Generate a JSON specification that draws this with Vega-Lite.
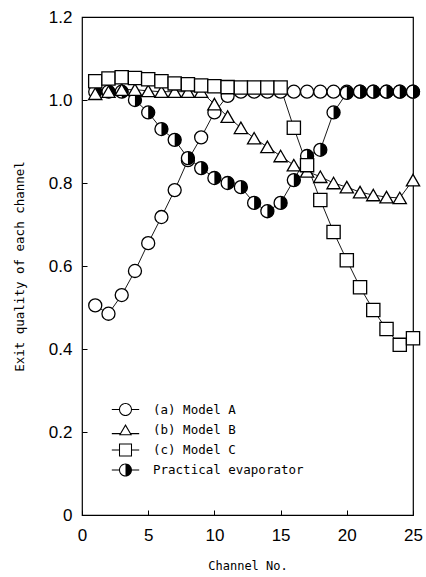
{
  "$schema": "https://vega.github.io/schema/vega-lite/v6.json",
  "width": 331,
  "height": 498,
  "autosize": {"type": "none"},
  "padding": {"left": 82, "top": 17, "right": 13, "bottom": 62},
  "background": "white",
  "config": {
    "view": {"stroke": "black", "strokeWidth": 1.2},
    "axis": {
      "grid": false,
      "domain": false,
      "ticks": true,
      "tickColor": "black",
      "tickSize": -5,
      "tickWidth": 1,
      "labelColor": "black",
      "labelFont": "Liberation Sans",
      "labelFontSize": 17,
      "titleColor": "black",
      "titleFont": "DejaVu Sans Mono",
      "titleFontWeight": "normal"
    }
  },
  "data": {
    "values": [
      {"c": 1, "s": "(a) Model A", "q": 0.505},
      {"c": 2, "s": "(a) Model A", "q": 0.485},
      {"c": 3, "s": "(a) Model A", "q": 0.53},
      {"c": 4, "s": "(a) Model A", "q": 0.588},
      {"c": 5, "s": "(a) Model A", "q": 0.655},
      {"c": 6, "s": "(a) Model A", "q": 0.718},
      {"c": 7, "s": "(a) Model A", "q": 0.783},
      {"c": 8, "s": "(a) Model A", "q": 0.855},
      {"c": 9, "s": "(a) Model A", "q": 0.91},
      {"c": 10, "s": "(a) Model A", "q": 0.97},
      {"c": 11, "s": "(a) Model A", "q": 1.01},
      {"c": 12, "s": "(a) Model A", "q": 1.02},
      {"c": 13, "s": "(a) Model A", "q": 1.02},
      {"c": 14, "s": "(a) Model A", "q": 1.02},
      {"c": 15, "s": "(a) Model A", "q": 1.02},
      {"c": 16, "s": "(a) Model A", "q": 1.02},
      {"c": 17, "s": "(a) Model A", "q": 1.02},
      {"c": 18, "s": "(a) Model A", "q": 1.02},
      {"c": 19, "s": "(a) Model A", "q": 1.02},
      {"c": 20, "s": "(a) Model A", "q": 1.02},
      {"c": 21, "s": "(a) Model A", "q": 1.02},
      {"c": 22, "s": "(a) Model A", "q": 1.02},
      {"c": 23, "s": "(a) Model A", "q": 1.02},
      {"c": 24, "s": "(a) Model A", "q": 1.02},
      {"c": 25, "s": "(a) Model A", "q": 1.02},
      {"c": 1, "s": "Practical evaporator", "q": 1.02},
      {"c": 2, "s": "Practical evaporator", "q": 1.02},
      {"c": 3, "s": "Practical evaporator", "q": 1.02},
      {"c": 4, "s": "Practical evaporator", "q": 1.0},
      {"c": 5, "s": "Practical evaporator", "q": 0.97},
      {"c": 6, "s": "Practical evaporator", "q": 0.93},
      {"c": 7, "s": "Practical evaporator", "q": 0.904},
      {"c": 8, "s": "Practical evaporator", "q": 0.86},
      {"c": 9, "s": "Practical evaporator", "q": 0.836},
      {"c": 10, "s": "Practical evaporator", "q": 0.812},
      {"c": 11, "s": "Practical evaporator", "q": 0.8},
      {"c": 12, "s": "Practical evaporator", "q": 0.79},
      {"c": 13, "s": "Practical evaporator", "q": 0.752},
      {"c": 14, "s": "Practical evaporator", "q": 0.732},
      {"c": 15, "s": "Practical evaporator", "q": 0.752},
      {"c": 16, "s": "Practical evaporator", "q": 0.807},
      {"c": 17, "s": "Practical evaporator", "q": 0.865},
      {"c": 18, "s": "Practical evaporator", "q": 0.88},
      {"c": 19, "s": "Practical evaporator", "q": 0.97},
      {"c": 20, "s": "Practical evaporator", "q": 1.017},
      {"c": 21, "s": "Practical evaporator", "q": 1.02},
      {"c": 22, "s": "Practical evaporator", "q": 1.02},
      {"c": 23, "s": "Practical evaporator", "q": 1.02},
      {"c": 24, "s": "Practical evaporator", "q": 1.02},
      {"c": 25, "s": "Practical evaporator", "q": 1.02},
      {"c": 1, "s": "(b) Model B", "q": 1.015},
      {"c": 2, "s": "(b) Model B", "q": 1.02},
      {"c": 3, "s": "(b) Model B", "q": 1.025},
      {"c": 4, "s": "(b) Model B", "q": 1.025},
      {"c": 5, "s": "(b) Model B", "q": 1.022},
      {"c": 6, "s": "(b) Model B", "q": 1.02},
      {"c": 7, "s": "(b) Model B", "q": 1.02},
      {"c": 8, "s": "(b) Model B", "q": 1.02},
      {"c": 9, "s": "(b) Model B", "q": 1.02},
      {"c": 10, "s": "(b) Model B", "q": 0.99},
      {"c": 11, "s": "(b) Model B", "q": 0.96},
      {"c": 12, "s": "(b) Model B", "q": 0.933},
      {"c": 13, "s": "(b) Model B", "q": 0.908},
      {"c": 14, "s": "(b) Model B", "q": 0.887},
      {"c": 15, "s": "(b) Model B", "q": 0.865},
      {"c": 16, "s": "(b) Model B", "q": 0.843},
      {"c": 17, "s": "(b) Model B", "q": 0.828},
      {"c": 18, "s": "(b) Model B", "q": 0.815},
      {"c": 19, "s": "(b) Model B", "q": 0.8},
      {"c": 20, "s": "(b) Model B", "q": 0.79},
      {"c": 21, "s": "(b) Model B", "q": 0.778},
      {"c": 22, "s": "(b) Model B", "q": 0.771},
      {"c": 23, "s": "(b) Model B", "q": 0.766},
      {"c": 24, "s": "(b) Model B", "q": 0.764},
      {"c": 25, "s": "(b) Model B", "q": 0.807},
      {"c": 1, "s": "(c) Model C", "q": 1.045},
      {"c": 2, "s": "(c) Model C", "q": 1.052},
      {"c": 3, "s": "(c) Model C", "q": 1.055},
      {"c": 4, "s": "(c) Model C", "q": 1.053},
      {"c": 5, "s": "(c) Model C", "q": 1.05},
      {"c": 6, "s": "(c) Model C", "q": 1.045},
      {"c": 7, "s": "(c) Model C", "q": 1.04},
      {"c": 8, "s": "(c) Model C", "q": 1.038},
      {"c": 9, "s": "(c) Model C", "q": 1.035},
      {"c": 10, "s": "(c) Model C", "q": 1.033},
      {"c": 11, "s": "(c) Model C", "q": 1.031},
      {"c": 12, "s": "(c) Model C", "q": 1.03},
      {"c": 13, "s": "(c) Model C", "q": 1.03},
      {"c": 14, "s": "(c) Model C", "q": 1.03},
      {"c": 15, "s": "(c) Model C", "q": 1.03},
      {"c": 16, "s": "(c) Model C", "q": 0.933},
      {"c": 17, "s": "(c) Model C", "q": 0.843},
      {"c": 18, "s": "(c) Model C", "q": 0.759},
      {"c": 19, "s": "(c) Model C", "q": 0.682},
      {"c": 20, "s": "(c) Model C", "q": 0.614},
      {"c": 21, "s": "(c) Model C", "q": 0.549},
      {"c": 22, "s": "(c) Model C", "q": 0.494},
      {"c": 23, "s": "(c) Model C", "q": 0.448},
      {"c": 24, "s": "(c) Model C", "q": 0.41},
      {"c": 25, "s": "(c) Model C", "q": 0.426}
    ]
  },
  "encoding": {
    "x": {
      "field": "c",
      "type": "quantitative",
      "scale": {"domain": [0, 25], "nice": false, "zero": false},
      "axis": {
        "values": [0, 5, 10, 15, 20, 25],
        "title": "Channel No.",
        "titleFontSize": 12,
        "titlePadding": 17,
        "labelPadding": 17,
        "labelFlush": false
      }
    },
    "y": {
      "field": "q",
      "type": "quantitative",
      "scale": {"domain": [0, 1.2], "nice": false},
      "axis": {
        "values": [0, 0.2, 0.4, 0.6, 0.8, 1.0, 1.2],
        "labelExpr": "datum.value === 0 ? '0' : format(datum.value, '.1f')",
        "title": "Exit quality of each channel",
        "titleFontSize": 12.5,
        "titlePadding": 22,
        "labelPadding": 15,
        "labelFlush": false
      }
    }
  },
  "layer": [
    {
      "mark": {"type": "line", "color": "black", "strokeWidth": 0.9},
      "encoding": {"detail": {"field": "s", "type": "nominal"}}
    },
    {
      "transform": [{"filter": "datum.s === '(a) Model A' || datum.s === 'Practical evaporator'"}],
      "mark": {"type": "point", "filled": true, "fill": "white", "stroke": "black", "strokeWidth": 1.3, "size": 170, "opacity": 1, "shape": "circle"}
    },
    {
      "transform": [{"filter": "datum.s === 'Practical evaporator'"}],
      "mark": {"type": "point", "filled": true, "color": "black", "strokeWidth": 0, "size": 170, "opacity": 1, "shape": "M0,-1A1,1,0,0,1,0,1Z"}
    },
    {
      "transform": [{"filter": "datum.s === '(b) Model B' || datum.s === '(c) Model C'"}],
      "mark": {"type": "point", "filled": true, "fill": "white", "stroke": "black", "strokeWidth": 1.3, "size": 175, "opacity": 1},
      "encoding": {
        "shape": {
          "field": "s",
          "type": "nominal",
          "scale": {
            "domain": ["(b) Model B", "(c) Model C"],
            "range": ["triangle-up", "square"]
          },
          "legend": null
        }
      }
    },
    {
      "mark": {"type": "point", "filled": true, "color": "black", "size": 170, "opacity": 0},
      "encoding": {
        "shape": {
          "field": "s",
          "type": "nominal",
          "scale": {
            "domain": ["(a) Model A", "(b) Model B", "(c) Model C", "Practical evaporator"],
            "range": [
              "M1,0A1,1,0,1,1,-1,0A1,1,0,1,1,1,0Z M0.84,0A0.84,0.84,0,1,0,-0.84,0A0.84,0.84,0,1,0,0.84,0Z M-2.1,-0.08H-0.95V0.08H-2.1Z M0.95,-0.08H2.1V0.08H0.95Z",
              "M0,-0.866L1,0.866L-1,0.866Z M0,-0.546L-0.723,0.706L0.723,0.706Z M-2.1,0.52H-0.78V0.68H-2.1Z M0.78,0.52H2.1V0.68H0.78Z",
              "M-1,-1H1V1H-1Z M-0.84,-0.84V0.84H0.84V-0.84Z M-2.1,-0.08H-0.95V0.08H-2.1Z M0.95,-0.08H2.1V0.08H0.95Z",
              "M1,0A1,1,0,1,1,-1,0A1,1,0,1,1,1,0Z M0.84,0A0.84,0.84,0,1,0,-0.84,0A0.84,0.84,0,1,0,0.84,0Z M0,-0.84A0.84,0.84,0,0,1,0,0.84Z M-2.1,-0.08H-0.95V0.08H-2.1Z M0.95,-0.08H2.1V0.08H0.95Z"
            ]
          },
          "legend": {
            "orient": "none",
            "legendX": 36.5,
            "legendY": 385.5,
            "title": null,
            "padding": 0,
            "symbolSize": 170,
            "symbolOpacity": 1,
            "symbolFillColor": "black",
            "symbolStrokeWidth": 0,
            "rowPadding": 6.2,
            "labelOffset": 20.5,
            "labelFont": "DejaVu Sans Mono",
            "labelFontSize": 12.5,
            "labelColor": "black",
            "labelLimit": 300
          }
        }
      }
    }
  ],
  "resolve": {"scale": {"shape": "independent"}, "legend": {"shape": "independent"}}
}
